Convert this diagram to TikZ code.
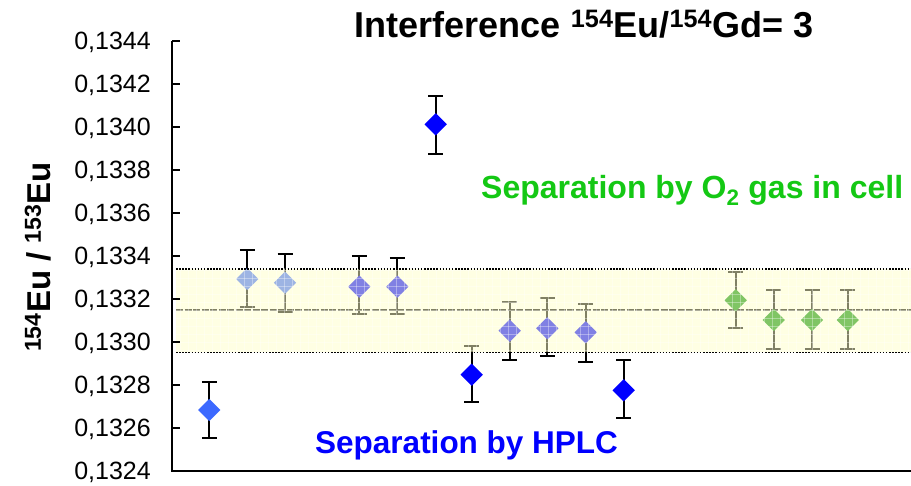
\documentclass[tikz,border=0pt]{standalone}
\usepackage{fontspec}
\setmainfont{Liberation Sans}
\usetikzlibrary{shapes.geometric}
\definecolor{bblue}{RGB}{60,105,255}
\definecolor{pblue}{RGB}{0,0,255}
\definecolor{dgreen}{RGB}{0,140,0}
\definecolor{tgreen}{RGB}{20,200,20}
\definecolor{bandy}{RGB}{255,255,200}
\begin{document}
\begin{tikzpicture}[x=1pt,y=-1pt,
  marker/.style={diamond, inner sep=0pt, minimum width=22.5pt, minimum height=22.5pt, draw=none},
  ebar/.style={line width=2.1pt},
  ticklab/.style={anchor=base east, inner sep=0pt, font=\fontsize{25}{25}\selectfont},
  bigtext/.style={inner sep=0pt, font=\bfseries\fontsize{31.5}{31.5}\selectfont},
  dotline/.style={line width=1.6pt, dash pattern=on 1.5pt off 1.6pt},
  meanline/.style={line width=2pt, dash pattern=on 7pt off 1.5pt}]
\useasboundingbox (0,0) rectangle (911,485);
\fill[white] (0,0) rectangle (911,485);
% mean line (under the band)
\coordinate (mL) at (176,310.3);
\coordinate (mR) at (911,310.3);
\draw[meanline] (mL) -- (mR);
% data points with error bars
\foreach \n/\x/\y/\t/\b/\c in {
  1/209.3/410/382.3/438.3/bblue,
  2/247.3/279/250.3/306.7/bblue,
  3/285/282.7/254/311.7/bblue,
  4/359.3/286.7/256.3/314.3/pblue,
  5/397.3/286.7/258.3/314.3/pblue,
  6/435.7/124.3/96/154.3/pblue,
  7/471.7/374.7/346/402/pblue,
  8/509.7/330.7/302.3/360/pblue,
  9/547.3/328.3/298.3/356.3/pblue,
  10/585.7/332.3/304/362.3/pblue,
  11/623.7/390.3/360.3/418/pblue,
  12/735.7/300.3/272.3/328/dgreen,
  13/773.7/320/290.3/348.7/dgreen,
  14/812/320/290.3/348.7/dgreen,
  15/847.7/320/290.3/348.7/dgreen}{
  \coordinate (t\n) at (\x,\t);
  \coordinate (b\n) at (\x,\b);
  \draw[ebar] (t\n) -- (b\n);
  \draw[ebar] ([xshift=-7.5pt]t\n) -- ([xshift=7.5pt]t\n);
  \draw[ebar] ([xshift=-7.5pt]b\n) -- ([xshift=7.5pt]b\n);
  \node[marker, fill=\c] (p\n) at (\x,\y) {};
}
% band
\fill[bandy, fill opacity=0.5] (176,268.7) rectangle (911,352.3);
\begin{scope}
  \clip (176,268.7) rectangle (911,352.3);
  \foreach \gx in {180,188,...,911} \draw[white, opacity=0.35, line width=0.6pt] (\gx,268) -- (\gx,353);
  \foreach \gy in {270,278,...,352} \draw[white, opacity=0.35, line width=0.6pt] (176,\gy) -- (911,\gy);
\end{scope}
\coordinate (uL) at (176,268.7);
\coordinate (uR) at (911,268.7);
\coordinate (lL) at (176,352.3);
\coordinate (lR) at (911,352.3);
\draw[dotline] (uL) -- (uR);
\draw[dotline] (lL) -- (lR);
% axes
\coordinate (aT) at (172,41);
\coordinate (aO) at (172,471);
\coordinate (aR) at (911,471);
\draw[line width=1.5pt] (aT) -- (aO) -- (aR);
\foreach \i/\lab in {0/1324,1/1326,2/1328,3/1330,4/1332,5/1334,6/1336,7/1338,8/1340,9/1342,10/1344}{
  \coordinate (k\i) at (172,{471-43*\i});
  \draw[line width=1.2pt] (k\i) -- ([xshift=8pt]k\i);
  \node[ticklab] (l\i) at (151,{471-43*\i+8.8}) {0,\lab};
}
% texts
\node[inner sep=0pt, rotate=90, anchor=base, font=\bfseries\fontsize{33}{33}\selectfont] (ylab) at (50,257) {\textsuperscript{154}Eu / \textsuperscript{153}Eu};
\node[inner sep=0pt, anchor=base, font=\bfseries\fontsize{36}{36}\selectfont] (title) at (584,37) {Interference \textsuperscript{154}Eu/\textsuperscript{154}Gd= 3};
\node[bigtext, anchor=base west, text=pblue] (hplc) at (315,453) {Separation by HPLC};
\node[bigtext, anchor=base west, text=tgreen, font=\bfseries\fontsize{32}{32}\selectfont] (otwo) at (481,198) {Separation by O\textsubscript{2} gas in cell};
\end{tikzpicture}
\end{document}
